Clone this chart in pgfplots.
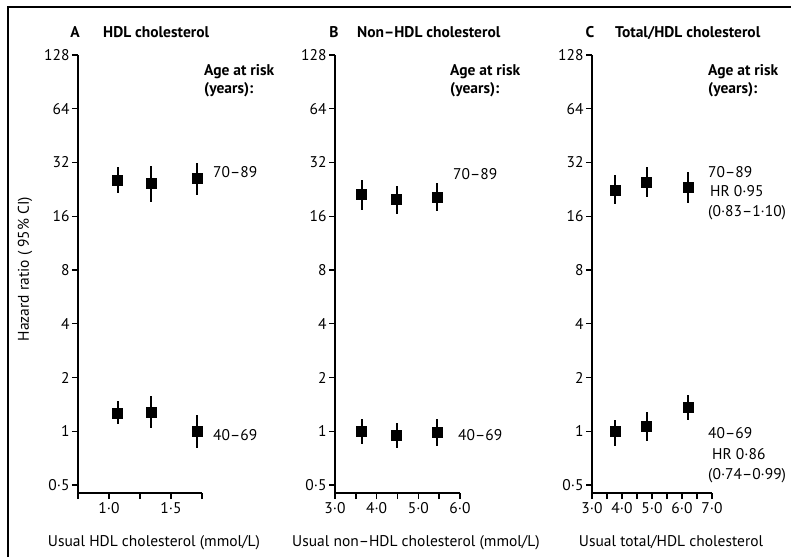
\documentclass[border=0pt]{standalone}
\usepackage{fontspec}
\setmainfont{PT Sans}
\usepackage{pgfplots}
\pgfplotsset{compat=1.18}
\usepackage{pgfplotstable}

% x = usual level, hr = hazard ratio, lo/hi = 95% CI
\pgfplotstableread{
x    hr   lo   hi
1.07 25.5 21.6 30.2
1.34 24.6 19.2 30.6
1.71 26.2 21.0 31.8
}\hdlold
\pgfplotstableread{
x    hr   lo   hi
1.07 1.27 1.10 1.48
1.34 1.28 1.04 1.58
1.71 1.00 0.81 1.23
}\hdlyoung
\pgfplotstableread{
x    hr   lo   hi
3.64 21.3 17.3 25.5
4.48 20.0 16.5 23.6
5.45 20.5 17.1 24.6
}\nonhdlold
\pgfplotstableread{
x    hr   lo   hi
3.64 1.00 0.85 1.17
4.48 0.95 0.81 1.11
5.45 0.99 0.83 1.17
}\nonhdlyoung
\pgfplotstableread{
x    hr   lo   hi
3.76 22.4 18.7 27.2
4.82 24.9 20.5 30.2
6.20 23.3 19.0 28.3
}\ratioold
\pgfplotstableread{
x    hr   lo   hi
3.76 1.00 0.83 1.16
4.82 1.07 0.88 1.28
6.20 1.37 1.16 1.60
}\ratioyoung

\newcommand{\lblfont}{\fontsize{15.5}{18}\selectfont}

\pgfplotsset{hrpanel/.style={
  scale only axis, height=438pt, anchor=south west,
  ymin=0.451, ymax=128,
  ytick={0.5,1,2,4,8,16,32,64,128},
  yticklabels={0·5,1,2,4,8,16,32,64,128},
  axis x line*=bottom, axis y line*=left,
  axis line style={line width=1.6pt},
  tick align=outside, major tick length=6pt,
  every tick/.append style={black, line width=1.4pt},
  tick label style={font=\lblfont},
  yticklabel style={xshift=1pt},
  clip=false
}}

\newcommand{\ciplot}[1]{%
  \addplot[only marks, black, mark=square*, mark size=5pt,
    error bars/.cd, y dir=both, y explicit, error mark=none,
    error bar style={line width=1.9pt}]
    table[x=x, y=hr,
    y error plus expr=\thisrow{hi}-\thisrow{hr},
    y error minus expr=\thisrow{hr}-\thisrow{lo}] {#1};}

\begin{document}
\begin{tikzpicture}
  \path[use as bounding box] (0pt,0pt) rectangle (791pt,557pt);
  \draw[line width=1.2pt] (8pt,0pt) -- (8pt,550pt) -- (791pt,550pt);

  \begin{semilogyaxis}[hrpanel, log basis y=2, at={(78pt,64pt)}, width=124pt,
      xmin=0.75, xmax=1.75, xtick={0.75,1,1.25,1.5,1.75},
      xticklabels={,1·0,,1·5,}]
    \ciplot{\hdlold}
    \ciplot{\hdlyoung}
  \end{semilogyaxis}

  \begin{semilogyaxis}[hrpanel, log basis y=2, at={(335pt,64pt)}, width=125pt,
      xmin=3, xmax=6, xtick={3,3.5,...,6},
      xticklabels={3·0,,4·0,,5·0,,6·0}]
    \ciplot{\nonhdlold}
    \ciplot{\nonhdlyoung}
  \end{semilogyaxis}

  \begin{semilogyaxis}[hrpanel, log basis y=2, at={(592pt,64pt)}, width=120pt,
      xmin=3, xmax=7, xtick={3,3.5,...,7},
      xticklabels={3·0,,4·0,,5·0,,6·0,,7·0}]
    \ciplot{\ratioold}
    \ciplot{\ratioyoung}
  \end{semilogyaxis}

  \begin{scope}[x=1pt, y=1pt]
  \node[rotate=90, font=\lblfont] at (25,288) {Hazard ratio ( 95\% CI)};

  \node[anchor=base, font=\lblfont\bfseries] at (75,519) {A};
  \node[anchor=base west, font=\lblfont\bfseries, inner sep=0pt] at (103,519) {HDL cholesterol};
  \node[anchor=base, font=\lblfont\bfseries] at (334,519) {B};
  \node[anchor=base west, font=\lblfont\bfseries, inner sep=0pt] at (357,519) {Non–HDL cholesterol};
  \node[anchor=base, font=\lblfont\bfseries] at (590,519) {C};
  \node[anchor=base west, font=\lblfont\bfseries, inner sep=0pt] at (615,519) {Total/HDL cholesterol};

  \foreach \xx in {204,450,708} {
    \node[anchor=base west, font=\lblfont\bfseries, inner sep=0pt] at (\xx,481) {Age at risk};
    \node[anchor=base west, font=\lblfont\bfseries, inner sep=0pt] at (\xx,463) {(years):};
  }

  \node[anchor=base west, font=\lblfont, inner sep=0pt] at (213,379) {70–89};
  \node[anchor=base west, font=\lblfont, inner sep=0pt] at (453,377) {70–89};
  \node[anchor=base west, font=\lblfont, inner sep=0pt] at (708,379) {70–89};
  \node[anchor=base west, font=\lblfont, inner sep=0pt] at (710,360) {HR 0·95};
  \node[anchor=base west, font=\lblfont, inner sep=0pt] at (708,340) {(0·83–1·10)};

  \node[anchor=base west, font=\lblfont, inner sep=0pt] at (213,117) {40–69};
  \node[anchor=base west, font=\lblfont, inner sep=0pt] at (458,117) {40–69};
  \node[anchor=base west, font=\lblfont, inner sep=0pt] at (708,119) {40–69};
  \node[anchor=base west, font=\lblfont, inner sep=0pt] at (712,98) {HR 0·86};
  \node[anchor=base west, font=\lblfont, inner sep=0pt] at (708,78) {(0·74–0·99)};

  \node[anchor=base, font=\lblfont] at (154,11) {Usual HDL cholesterol (mmol/L)};
  \node[anchor=base, font=\lblfont] at (416,11) {Usual non–HDL cholesterol (mmol/L)};
  \node[anchor=base, font=\lblfont] at (671,11) {Usual total/HDL cholesterol};
  \end{scope}
\end{tikzpicture}
\end{document}
